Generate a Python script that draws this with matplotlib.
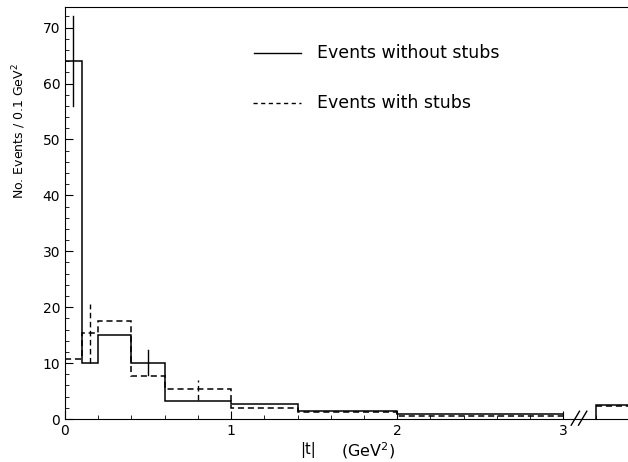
import numpy as np
import matplotlib.pyplot as plt
from matplotlib.ticker import MultipleLocator

plt.rcParams['font.family'] = ['DejaVu Sans']

# |t| bin edges (GeV^2) and counts per 0.1 GeV^2
edges = [0, 0.1, 0.2, 0.4, 0.6, 1.0, 1.2, 1.4, 1.6, 1.8, 2.0, 2.2, 2.4, 2.6, 2.8, 3.0]
no_stubs = [64, 10, 15.1, 10, 3.3, 2.6, 2.6, 1.5, 1.5, 1.5, 0.9, 0.9, 0.9, 0.9, 0.9]
with_stubs = [10.8, 15.3, 17.6, 7.7, 5.4, 1.9, 1.9, 1.3, 1.3, 1.3, 0.6, 0.6, 0.6, 0.6, 0.6]

# overflow bin drawn past the axis break
tail_edges = [3.2, 3.45]
tail_no_stubs = [2.5]
tail_with_stubs = [2.4]

# error bars: x, low, high
err_no_stubs = [(0.05, 56, 72), (0.5, 7.9, 12.4)]
err_with_stubs = [(0.15, 10, 20.6), (0.8, 3.4, 6.9)]

fig = plt.figure(figsize=(6.28, 4.62), dpi=100)
ax = fig.add_axes([0.1035, 0.093, 0.8965, 0.892])

ax.stairs(no_stubs, edges, color='black', lw=1.1, baseline=None)
ax.stairs(with_stubs, edges, color='black', lw=1.1, ls=(0, (4, 2.5)), baseline=None)
ax.stairs(tail_no_stubs, tail_edges, color='black', lw=1.1, baseline=0)
ax.stairs(tail_with_stubs, tail_edges, color='black', lw=1.1, ls=(0, (4, 2.5)), baseline=None)

for x, lo, hi in err_no_stubs:
    ax.plot([x, x], [lo, hi], color='black', lw=1.0)
for x, lo, hi in err_with_stubs:
    ax.plot([x, x], [lo, hi], color='black', lw=1.0, ls=(0, (4, 2.5)))

# axis break marks
for dx in (-0.022, 0.022):
    ax.plot([3.07 + dx, 3.12 + dx], [-1.1, 1.4], color='black', lw=1.0, clip_on=False)

ax.set_xlim(0, 3.39)
ax.set_ylim(0, 73.7)
ax.spines['right'].set_visible(False)
ax.set_xticks([0, 1, 2, 3])
ax.xaxis.set_minor_locator(MultipleLocator(0.2))
ax.yaxis.set_major_locator(MultipleLocator(10))
ax.yaxis.set_minor_locator(MultipleLocator(2))
ax.tick_params(which='both', direction='in', top=False, right=False, labelsize=10)
ax.tick_params(which='major', length=6)
ax.tick_params(which='minor', length=3)

ax.text(-0.082, 0.70, 'No. Events / 0.1 GeV$^2$', transform=ax.transAxes,
        rotation=90, ha='center', va='center', fontsize=9)
ax.text(0.417, -0.055, '|t|', transform=ax.transAxes, fontsize=10.5, va='top')
ax.text(0.49, -0.052, '(GeV$^2$)', transform=ax.transAxes, fontsize=11.5, va='top')

# legend drawn by hand
ax.plot([1.14, 1.42], [65.5, 65.5], color='black', lw=1.0)
ax.text(1.52, 65.5, 'Events without stubs', fontsize=12.5, va='center')
ax.plot([1.13, 1.42], [56.5, 56.5], color='black', lw=1.0, ls=(0, (3, 2.5)))
ax.text(1.52, 56.5, 'Events with stubs', fontsize=12.5, va='center')

fig.savefig('out.png', dpi=100)
